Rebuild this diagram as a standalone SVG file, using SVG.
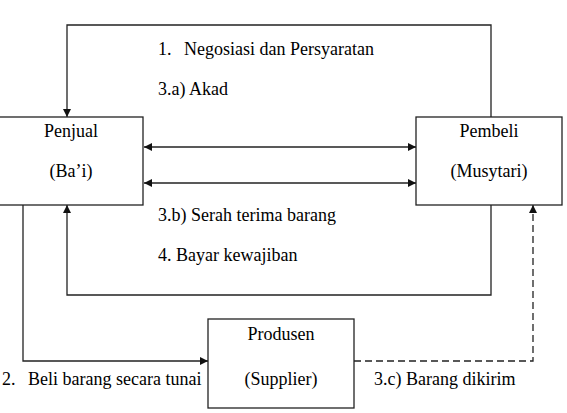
<svg xmlns="http://www.w3.org/2000/svg" width="567" height="413" viewBox="0 0 567 413">
<defs>
<marker id="ah" viewBox="0 0 10 10" refX="10" refY="5" markerWidth="9" markerHeight="8" markerUnits="userSpaceOnUse" orient="auto-start-reverse">
<path d="M0,0 L10,5 L0,10 z" fill="#111"/>
</marker>
</defs>
<rect width="567" height="413" fill="#fff"/>
<g id="connectors" fill="none" stroke="#222" stroke-width="1.3">
<path d="M491,117 V25 H67 V117" marker-end="url(#ah)"/>
<path d="M144,147 H416" marker-start="url(#ah)" marker-end="url(#ah)"/>
<path d="M144,183 H416" marker-start="url(#ah)" marker-end="url(#ah)"/>
<path d="M491,205 V295 H67 V205" marker-end="url(#ah)"/>
<path d="M23,205 V361 H208" marker-end="url(#ah)"/>
<path d="M354,361 H533 V205" stroke-dasharray="7 4" marker-end="url(#ah)"/>
</g>
<g id="penjual">
<rect x="-1" y="117" width="144" height="88" fill="#fff" stroke="#222" stroke-width="1.3"/>
<text x="71" y="137" font-family="Liberation Serif" font-size="18" text-anchor="middle">Penjual</text>
<text x="71" y="177" font-family="Liberation Serif" font-size="18" text-anchor="middle">(Ba’i)</text>
</g>
<g id="pembeli">
<rect x="416" y="117" width="146" height="88" fill="#fff" stroke="#222" stroke-width="1.3"/>
<text x="489" y="137" font-family="Liberation Serif" font-size="18" text-anchor="middle">Pembeli</text>
<text x="489" y="177" font-family="Liberation Serif" font-size="18" text-anchor="middle">(Musytari)</text>
</g>
<g id="produsen">
<rect x="208" y="319" width="146" height="89" fill="#fff" stroke="#222" stroke-width="1.3"/>
<text x="281" y="340" font-family="Liberation Serif" font-size="18" text-anchor="middle">Produsen</text>
<text x="281" y="385" font-family="Liberation Serif" font-size="18" text-anchor="middle">(Supplier)</text>
</g>
<g id="labels">
<text x="158" y="55" font-family="Liberation Serif" font-size="18">1.</text>
<text x="184" y="55" font-family="Liberation Serif" font-size="18">Negosiasi dan Persyaratan</text>
<text x="158" y="95" font-family="Liberation Serif" font-size="18">3.a) Akad</text>
<text x="158" y="221" font-family="Liberation Serif" font-size="18">3.b) Serah terima barang</text>
<text x="158" y="261" font-family="Liberation Serif" font-size="18">4. Bayar kewajiban</text>
<text x="2" y="385" font-family="Liberation Serif" font-size="18">2.</text>
<text x="28" y="385" font-family="Liberation Serif" font-size="18">Beli barang secara tunai</text>
<text x="374" y="385" font-family="Liberation Serif" font-size="18">3.c) Barang dikirim</text>
</g>
</svg>
